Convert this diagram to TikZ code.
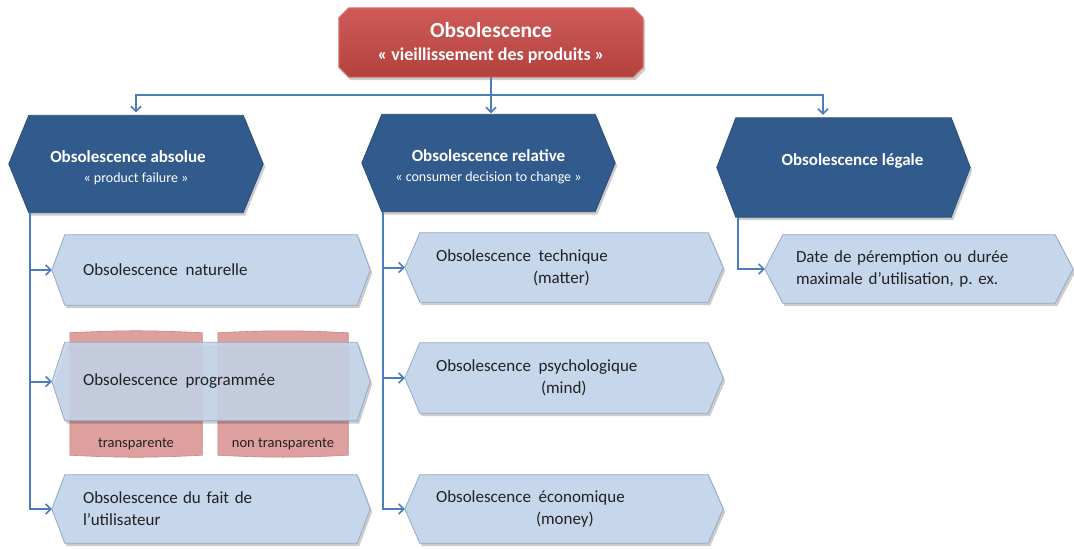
\documentclass[tikz,border=0pt]{standalone}
\usepackage{fontspec}
\setmainfont{Carlito}
\frenchspacing
\usetikzlibrary{arrows.meta,shadows}
\pgfdeclarelayer{bg}
\pgfdeclarelayer{tabs}
\pgfdeclarelayer{shapes}
\pgfsetlayers{bg,tabs,shapes,main}
\definecolor{conn}{HTML}{4A7EBB}
\definecolor{dkblue}{HTML}{315A8D}
\definecolor{dkborder}{HTML}{2A4D78}
\definecolor{ltblue}{HTML}{C6D6EB}
\definecolor{ltborder}{HTML}{93A9C9}
\definecolor{redtop}{HTML}{CE5B57}
\definecolor{redbot}{HTML}{B3413D}
\definecolor{redborder}{HTML}{DA7470}
\definecolor{pinkfill}{HTML}{DEA09E}
\definecolor{pinkborder}{HTML}{C48886}
\definecolor{bodytext}{HTML}{222222}
\tikzset{
  shd/.style={drop shadow={shadow xshift=2pt,shadow yshift=-3pt,opacity=.2,fill=black}},
  redfill/.style={top color=redtop,bottom color=redbot,draw=redborder,line width=1pt,shd},
  dkfill/.style={fill=dkblue,draw=dkborder,line width=.8pt,shd},
  ltfill/.style={fill=ltblue,draw=ltborder,line width=.8pt,shd},
  tabfill/.style={fill=pinkfill,draw=pinkborder,line width=.6pt},
  redn/.style={inner sep=0pt,align=center,text=white},
  hdr/.style={inner sep=0pt,align=center,text=white,minimum height=97pt,
    font=\fontsize{17}{20}\selectfont\bfseries},
  lt/.style={inner xsep=31pt,inner ysep=0pt,align=left,text=bodytext,
    font=\fontsize{17}{22}\selectfont},
  tab/.style={inner xsep=0pt,inner ysep=0pt,text height=117pt,text depth=11pt,
    font=\fontsize{14.5}{17}\selectfont,text=bodytext},
  conn/.style={draw=conn,line width=2pt,
    -{Straight Barb[length=5pt,width=10pt,line width=1.6pt]}}
}
\newcommand\hexfill[3]{%
  \begin{pgfonlayer}{shapes}
  \path[#3] (#1.west) -- ([xshift=#2]#1.north west) -- ([xshift=-#2]#1.north east)
    -- (#1.east) -- ([xshift=-#2]#1.south east) -- ([xshift=#2]#1.south west) -- cycle;
  \end{pgfonlayer}}
\newcommand\tabfill[1]{%
  \begin{pgfonlayer}{tabs}
  \path[tabfill] ([yshift=-3pt]#1.north west) to[bend left=3] ([yshift=-3pt]#1.north east)
    -- ([yshift=3pt]#1.south east) to[bend left=3] ([yshift=3pt]#1.south west) -- cycle;
  \end{pgfonlayer}}
\newcommand\topstrut{\rule{0pt}{20pt}}
\begin{document}
\begin{tikzpicture}[x=1pt,y=-1pt]
\begin{pgfonlayer}{bg}
\fill[white] (0,0) rectangle (1074,549);
\end{pgfonlayer}
\useasboundingbox (0,0) rectangle (1074,549);

% top node
\node[redn,minimum width=304pt,minimum height=69pt,
      font=\fontsize{18}{23}\selectfont\bfseries] (red) at (491,42.5)
  {{\fontsize{21.5}{23}\selectfont Obsolescence}\\
   « vieillissement des produits »};
\begin{pgfonlayer}{shapes}
\path[redfill] ([xshift=10pt]red.north west) -- ([xshift=-10pt]red.north east)
  -- ([yshift=-10pt]red.north east) -- ([yshift=10pt]red.south east)
  -- ([xshift=-10pt]red.south east) -- ([xshift=10pt]red.south west)
  -- ([yshift=10pt]red.south west) -- ([yshift=-10pt]red.north west) -- cycle;
\end{pgfonlayer}

% headers
\node[hdr,minimum width=254pt] (abs) at (136,164)
  {\topstrut Obsolescence absolue\hspace*{16pt}\\{\fontsize{14}{16}\selectfont\mdseries « product failure »}};
\hexfill{abs}{20pt}{dkfill}
\node[hdr,minimum width=253pt] (rel) at (488.5,163)
  {\topstrut Obsolescence relative\\{\fontsize{14}{16}\selectfont\mdseries « consumer decision to change »}};
\hexfill{rel}{20pt}{dkfill}
\node[hdr,minimum width=253pt,minimum height=99pt] (leg) at (843.5,167.5)
  {\topstrut\hspace*{18pt}Obsolescence légale\\{\fontsize{14}{16}\selectfont\strut}};
\hexfill{leg}{19pt}{dkfill}

% red tabs
\node[tab,minimum width=132pt] (tr) at (136,394) {transparente};
\tabfill{tr}
\node[tab,minimum width=130pt] (ntr) at (283,394) {non transparente};
\tabfill{ntr}

% left column
\node[lt,minimum width=318pt,minimum height=70pt,text width=256pt] (nat) at (211,270)
  {Obsolescence\hspace{.45em}naturelle};
\hexfill{nat}{13pt}{ltfill}
\node[lt,minimum width=318pt,minimum height=78pt,text width=256pt] (prog) at (211,381.5)
  {Obsolescence\hspace{.45em}programmée};
\hexfill{prog}{13pt}{ltfill,fill opacity=.88}
\node[lt,minimum width=318pt,minimum height=68pt,text width=256pt] (fait) at (211,509)
  {Obsolescence\hspace{.3em}du fait de\\l’utilisateur};
\hexfill{fait}{13pt}{ltfill}

% middle column
\node[lt,minimum width=318pt,minimum height=69pt,text width=256pt] (tech) at (564,267.5)
  {Obsolescence\hspace{.45em}technique\\\hspace*{97pt}(matter)};
\hexfill{tech}{15pt}{ltfill}
\node[lt,minimum width=318pt,minimum height=70pt,text width=256pt] (psy) at (564,378)
  {Obsolescence\hspace{.45em}psychologique\\\hspace*{105pt}(mind)};
\hexfill{psy}{15pt}{ltfill}
\node[lt,minimum width=318pt,minimum height=68pt,text width=256pt] (eco) at (564,509)
  {Obsolescence\hspace{.45em}économique\\\hspace*{100pt}(money)};
\hexfill{eco}{15pt}{ltfill}

% right column
\node[lt,minimum width=308pt,minimum height=68pt,text width=246pt] (date) at (919,269)
  {Date de péremption ou durée\\maximale d’utilisation, p. ex.};
\hexfill{date}{18pt}{ltfill}

% connectors
\coordinate (bus) at (491,95);
\coordinate (legin) at ([xshift=-20.5pt]leg.north);
\draw[conn,shorten >=1pt] (red.south) -- (red.south |- rel.north);
\draw[conn,shorten >=3pt] (bus) -| (abs.north);
\draw[conn,shorten >=3pt] (bus) -| (legin);

\coordinate (absfoot) at ([xshift=21pt]abs.south west);
\draw[conn] (absfoot) |- (nat.west);
\draw[conn] (absfoot) |- (prog.west);
\draw[conn] (absfoot) |- (fait.west);

\coordinate (relfoot) at ([xshift=21pt]rel.south west);
\draw[conn] (relfoot) |- (tech.west);
\draw[conn] (relfoot) |- (psy.west);
\draw[conn] (relfoot) |- (eco.west);

\coordinate (legfoot) at ([xshift=21pt]leg.south west);
\draw[conn] (legfoot) |- (date.west);
\end{tikzpicture}
\end{document}
